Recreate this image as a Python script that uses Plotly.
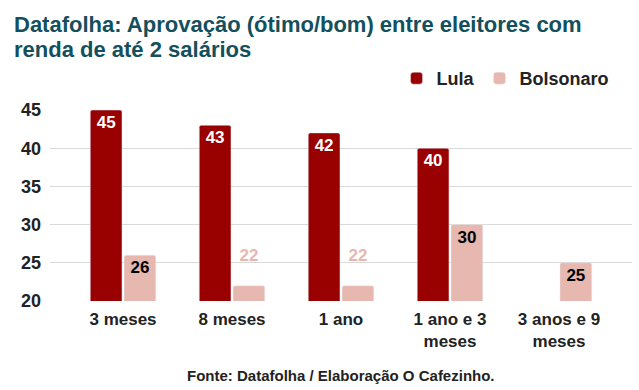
import plotly.graph_objects as go

categories = ["3 meses", "8 meses", "1 ano", "1 ano e 3<br>meses", "3 anos e 9<br>meses"]
lula = [45, 43, 42, 40, None]
bolsonaro = [26, 22, 22, 30, 25]
title_lines = ["Datafolha: Aprovação (ótimo/bom) entre eleitores com", "renda de até 2 salários"]
source = "Fonte: Datafolha / Elaboração O Cafezinho."

LULA_C = "#990000"
BOLSO_C = "#e6b8af"
FONT = "Liberation Sans, Arial, sans-serif"

bolso_pos = ["inside" if v is not None and v >= 24 else "outside" for v in bolsonaro]
bolso_col = ["#000000" if p == "inside" else BOLSO_C for p in bolso_pos]
bolso_txt = [str(v) if p == "inside" else f"{v}<br><span style='font-size:2px'> </span>"
             for v, p in zip(bolsonaro, bolso_pos)]

fig = go.Figure()
fig.add_trace(go.Bar(
    name="Lula", x=categories, y=lula, marker_color=LULA_C,
    text=[str(v) if v is not None else "" for v in lula],
    textposition="inside", insidetextanchor="end",
    textfont=dict(color="white", size=17, family=FONT, weight="bold"),
    hoverinfo="skip",
))
fig.add_trace(go.Bar(
    name="Bolsonaro", x=categories, y=bolsonaro, marker_color=BOLSO_C,
    text=bolso_txt, textposition=bolso_pos, insidetextanchor="end",
    textfont=dict(color=bolso_col, size=17, family=FONT, weight="bold"),
    cliponaxis=False, hoverinfo="skip",
))

title_y = [1.447, 1.317]
annotations = [
    dict(
        text=line, xref="paper", yref="paper", x=-0.066, y=ty,
        xanchor="left", yanchor="middle", align="left", showarrow=False,
        font=dict(size=22, color="#134f5c", family=FONT, weight="bold"),
    )
    for line, ty in zip(title_lines, title_y)
]
annotations.append(dict(
    text=source, xref="paper", yref="paper", x=0.5, y=-0.39,
    xanchor="center", yanchor="middle", showarrow=False,
    font=dict(size=15, color="#222222", family=FONT, weight="bold"),
))

fig.update_layout(
    width=639, height=390,
    paper_bgcolor="white", plot_bgcolor="white",
    font=dict(family=FONT, size=16, color="#222222"),
    margin=dict(l=50, r=7, t=110, b=89),
    barmode="group", bargap=0.38, bargroupgap=0.06, barcornerradius=2,
    legend=dict(
        orientation="h", x=0.97, xanchor="right", y=1.165, yanchor="middle",
        font=dict(size=18, color="#222222", family=FONT, weight="bold"),
        traceorder="normal",
    ),
    xaxis=dict(
        range=[-0.67, 4.67], showgrid=False, showline=False, ticks="",
        tickfont=dict(size=17, color="#222222", family=FONT, weight="bold"),
        ticklabelstandoff=6,
    ),
    yaxis=dict(
        range=[20, 45], tickvals=[20, 25, 30, 35, 40, 45],
        gridcolor="#d9d9d9", zeroline=False, showline=False,
        tickfont=dict(size=18, color="#222222", family=FONT, weight="bold"),
        ticklabelstandoff=8,
    ),
    annotations=annotations,
)

fig.write_html("out.html")
